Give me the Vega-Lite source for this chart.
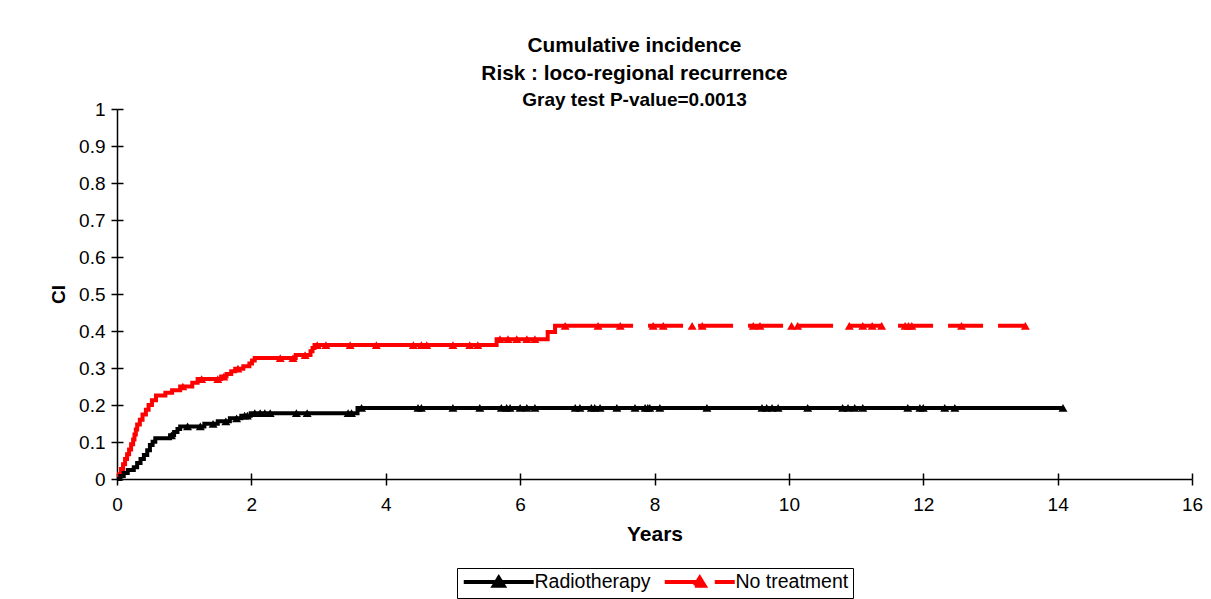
{
  "$schema": "https://vega.github.io/schema/vega-lite/v6.json",
  "width": 1075,
  "height": 370,
  "autosize": {"type": "none"},
  "padding": {"left": 117, "top": 109, "right": 19, "bottom": 120},
  "background": "white",
  "config": {"font": "Liberation Sans", "view": {"stroke": null}},
  "title": {
    "text": ["Cumulative incidence", "Risk : loco-regional recurrence"],
    "subtitle": "Gray test P-value=0.0013",
    "anchor": "middle", "dx": -20, "offset": -11,
    "font": "Liberation Sans", "fontSize": 20.8, "fontWeight": "bold", "color": "black", "lineHeight": 28,
    "subtitleFont": "Liberation Sans", "subtitleFontSize": 19, "subtitleFontWeight": "bold", "subtitleColor": "black", "subtitlePadding": 6
  },
  "datasets": {
    "ci": [
      {"group": "No treatment", "t": 0, "ci": 0, "cens": 0},
      {"group": "No treatment", "t": 0.03, "ci": 0.013, "cens": 0},
      {"group": "No treatment", "t": 0.06, "ci": 0.027, "cens": 0},
      {"group": "No treatment", "t": 0.09, "ci": 0.04, "cens": 0},
      {"group": "No treatment", "t": 0.12, "ci": 0.054, "cens": 0},
      {"group": "No treatment", "t": 0.15, "ci": 0.067, "cens": 0},
      {"group": "No treatment", "t": 0.18, "ci": 0.08, "cens": 0},
      {"group": "No treatment", "t": 0.21, "ci": 0.094, "cens": 0},
      {"group": "No treatment", "t": 0.24, "ci": 0.107, "cens": 0},
      {"group": "No treatment", "t": 0.26, "ci": 0.12, "cens": 0},
      {"group": "No treatment", "t": 0.28, "ci": 0.134, "cens": 0},
      {"group": "No treatment", "t": 0.30, "ci": 0.147, "cens": 0},
      {"group": "No treatment", "t": 0.34, "ci": 0.16, "cens": 0},
      {"group": "No treatment", "t": 0.38, "ci": 0.174, "cens": 0},
      {"group": "No treatment", "t": 0.43, "ci": 0.187, "cens": 0},
      {"group": "No treatment", "t": 0.47, "ci": 0.2, "cens": 0},
      {"group": "No treatment", "t": 0.52, "ci": 0.213, "cens": 0},
      {"group": "No treatment", "t": 0.58, "ci": 0.226, "cens": 0},
      {"group": "No treatment", "t": 0.72, "ci": 0.233, "cens": 0},
      {"group": "No treatment", "t": 0.82, "ci": 0.24, "cens": 0},
      {"group": "No treatment", "t": 0.94, "ci": 0.25, "cens": 0},
      {"group": "No treatment", "t": 0.98, "ci": 0.25, "cens": 1},
      {"group": "No treatment", "t": 1.12, "ci": 0.26, "cens": 0},
      {"group": "No treatment", "t": 1.2, "ci": 0.27, "cens": 0},
      {"group": "No treatment", "t": 1.26, "ci": 0.27, "cens": 1},
      {"group": "No treatment", "t": 1.5, "ci": 0.27, "cens": 1},
      {"group": "No treatment", "t": 1.55, "ci": 0.277, "cens": 0},
      {"group": "No treatment", "t": 1.59, "ci": 0.277, "cens": 1},
      {"group": "No treatment", "t": 1.63, "ci": 0.284, "cens": 0},
      {"group": "No treatment", "t": 1.7, "ci": 0.291, "cens": 0},
      {"group": "No treatment", "t": 1.76, "ci": 0.298, "cens": 0},
      {"group": "No treatment", "t": 1.8, "ci": 0.298, "cens": 1},
      {"group": "No treatment", "t": 1.88, "ci": 0.305, "cens": 0},
      {"group": "No treatment", "t": 1.97, "ci": 0.312, "cens": 0},
      {"group": "No treatment", "t": 2.01, "ci": 0.32, "cens": 0},
      {"group": "No treatment", "t": 2.05, "ci": 0.327, "cens": 0},
      {"group": "No treatment", "t": 2.43, "ci": 0.327, "cens": 1},
      {"group": "No treatment", "t": 2.62, "ci": 0.327, "cens": 1},
      {"group": "No treatment", "t": 2.66, "ci": 0.335, "cens": 0},
      {"group": "No treatment", "t": 2.8, "ci": 0.335, "cens": 1},
      {"group": "No treatment", "t": 2.88, "ci": 0.345, "cens": 0},
      {"group": "No treatment", "t": 2.91, "ci": 0.354, "cens": 0},
      {"group": "No treatment", "t": 2.94, "ci": 0.362, "cens": 0},
      {"group": "No treatment", "t": 2.98, "ci": 0.362, "cens": 1},
      {"group": "No treatment", "t": 3.11, "ci": 0.362, "cens": 1},
      {"group": "No treatment", "t": 3.47, "ci": 0.362, "cens": 1},
      {"group": "No treatment", "t": 3.86, "ci": 0.362, "cens": 1},
      {"group": "No treatment", "t": 4.41, "ci": 0.362, "cens": 1},
      {"group": "No treatment", "t": 4.53, "ci": 0.362, "cens": 1},
      {"group": "No treatment", "t": 4.61, "ci": 0.362, "cens": 1},
      {"group": "No treatment", "t": 5.0, "ci": 0.362, "cens": 1},
      {"group": "No treatment", "t": 5.25, "ci": 0.362, "cens": 1},
      {"group": "No treatment", "t": 5.37, "ci": 0.362, "cens": 1},
      {"group": "No treatment", "t": 5.65, "ci": 0.378, "cens": 0},
      {"group": "No treatment", "t": 5.7, "ci": 0.378, "cens": 1},
      {"group": "No treatment", "t": 5.82, "ci": 0.378, "cens": 1},
      {"group": "No treatment", "t": 5.95, "ci": 0.378, "cens": 1},
      {"group": "No treatment", "t": 6.1, "ci": 0.378, "cens": 1},
      {"group": "No treatment", "t": 6.22, "ci": 0.378, "cens": 1},
      {"group": "No treatment", "t": 6.41, "ci": 0.397, "cens": 0},
      {"group": "No treatment", "t": 6.52, "ci": 0.414, "cens": 0},
      {"group": "No treatment", "t": 6.67, "ci": 0.414, "cens": 1},
      {"group": "No treatment", "t": 7.16, "ci": 0.414, "cens": 1},
      {"group": "No treatment", "t": 7.49, "ci": 0.414, "cens": 1},
      {"group": "No treatment", "t": 7.98, "ci": 0.414, "cens": 1},
      {"group": "No treatment", "t": 8.13, "ci": 0.414, "cens": 1},
      {"group": "No treatment", "t": 8.56, "ci": 0.414, "cens": 1},
      {"group": "No treatment", "t": 8.71, "ci": 0.414, "cens": 1},
      {"group": "No treatment", "t": 9.47, "ci": 0.414, "cens": 1},
      {"group": "No treatment", "t": 9.57, "ci": 0.414, "cens": 1},
      {"group": "No treatment", "t": 10.04, "ci": 0.414, "cens": 1},
      {"group": "No treatment", "t": 10.13, "ci": 0.414, "cens": 1},
      {"group": "No treatment", "t": 10.9, "ci": 0.414, "cens": 1},
      {"group": "No treatment", "t": 11.1, "ci": 0.414, "cens": 1},
      {"group": "No treatment", "t": 11.24, "ci": 0.414, "cens": 1},
      {"group": "No treatment", "t": 11.38, "ci": 0.414, "cens": 1},
      {"group": "No treatment", "t": 11.73, "ci": 0.414, "cens": 1},
      {"group": "No treatment", "t": 11.78, "ci": 0.414, "cens": 1},
      {"group": "No treatment", "t": 11.83, "ci": 0.414, "cens": 1},
      {"group": "No treatment", "t": 12.57, "ci": 0.414, "cens": 1},
      {"group": "No treatment", "t": 13.52, "ci": 0.414, "cens": 1},
      {"group": "Radiotherapy", "t": 0, "ci": 0, "cens": 0},
      {"group": "Radiotherapy", "t": 0.05, "ci": 0.008, "cens": 0},
      {"group": "Radiotherapy", "t": 0.1, "ci": 0.016, "cens": 0},
      {"group": "Radiotherapy", "t": 0.16, "ci": 0.024, "cens": 0},
      {"group": "Radiotherapy", "t": 0.25, "ci": 0.032, "cens": 0},
      {"group": "Radiotherapy", "t": 0.3, "ci": 0.043, "cens": 0},
      {"group": "Radiotherapy", "t": 0.35, "ci": 0.054, "cens": 0},
      {"group": "Radiotherapy", "t": 0.4, "ci": 0.065, "cens": 0},
      {"group": "Radiotherapy", "t": 0.45, "ci": 0.078, "cens": 0},
      {"group": "Radiotherapy", "t": 0.49, "ci": 0.092, "cens": 0},
      {"group": "Radiotherapy", "t": 0.53, "ci": 0.101, "cens": 0},
      {"group": "Radiotherapy", "t": 0.57, "ci": 0.11, "cens": 0},
      {"group": "Radiotherapy", "t": 0.79, "ci": 0.118, "cens": 0},
      {"group": "Radiotherapy", "t": 0.81, "ci": 0.118, "cens": 1},
      {"group": "Radiotherapy", "t": 0.85, "ci": 0.127, "cens": 0},
      {"group": "Radiotherapy", "t": 0.9, "ci": 0.135, "cens": 0},
      {"group": "Radiotherapy", "t": 0.94, "ci": 0.142, "cens": 0},
      {"group": "Radiotherapy", "t": 1.05, "ci": 0.142, "cens": 1},
      {"group": "Radiotherapy", "t": 1.24, "ci": 0.142, "cens": 1},
      {"group": "Radiotherapy", "t": 1.3, "ci": 0.149, "cens": 0},
      {"group": "Radiotherapy", "t": 1.43, "ci": 0.149, "cens": 1},
      {"group": "Radiotherapy", "t": 1.5, "ci": 0.156, "cens": 0},
      {"group": "Radiotherapy", "t": 1.62, "ci": 0.156, "cens": 1},
      {"group": "Radiotherapy", "t": 1.68, "ci": 0.164, "cens": 0},
      {"group": "Radiotherapy", "t": 1.78, "ci": 0.164, "cens": 1},
      {"group": "Radiotherapy", "t": 1.85, "ci": 0.171, "cens": 0},
      {"group": "Radiotherapy", "t": 1.9, "ci": 0.171, "cens": 1},
      {"group": "Radiotherapy", "t": 1.94, "ci": 0.171, "cens": 1},
      {"group": "Radiotherapy", "t": 1.99, "ci": 0.178, "cens": 0},
      {"group": "Radiotherapy", "t": 2.05, "ci": 0.178, "cens": 1},
      {"group": "Radiotherapy", "t": 2.13, "ci": 0.178, "cens": 1},
      {"group": "Radiotherapy", "t": 2.2, "ci": 0.178, "cens": 1},
      {"group": "Radiotherapy", "t": 2.28, "ci": 0.178, "cens": 1},
      {"group": "Radiotherapy", "t": 2.67, "ci": 0.178, "cens": 1},
      {"group": "Radiotherapy", "t": 2.83, "ci": 0.178, "cens": 1},
      {"group": "Radiotherapy", "t": 3.44, "ci": 0.178, "cens": 1},
      {"group": "Radiotherapy", "t": 3.49, "ci": 0.178, "cens": 1},
      {"group": "Radiotherapy", "t": 3.58, "ci": 0.192, "cens": 0},
      {"group": "Radiotherapy", "t": 3.64, "ci": 0.192, "cens": 1},
      {"group": "Radiotherapy", "t": 4.48, "ci": 0.192, "cens": 1},
      {"group": "Radiotherapy", "t": 4.53, "ci": 0.192, "cens": 1},
      {"group": "Radiotherapy", "t": 5.0, "ci": 0.192, "cens": 1},
      {"group": "Radiotherapy", "t": 5.4, "ci": 0.192, "cens": 1},
      {"group": "Radiotherapy", "t": 5.72, "ci": 0.192, "cens": 1},
      {"group": "Radiotherapy", "t": 5.8, "ci": 0.192, "cens": 1},
      {"group": "Radiotherapy", "t": 5.85, "ci": 0.192, "cens": 1},
      {"group": "Radiotherapy", "t": 6.0, "ci": 0.192, "cens": 1},
      {"group": "Radiotherapy", "t": 6.1, "ci": 0.192, "cens": 1},
      {"group": "Radiotherapy", "t": 6.22, "ci": 0.192, "cens": 1},
      {"group": "Radiotherapy", "t": 6.82, "ci": 0.192, "cens": 1},
      {"group": "Radiotherapy", "t": 6.89, "ci": 0.192, "cens": 1},
      {"group": "Radiotherapy", "t": 7.06, "ci": 0.192, "cens": 1},
      {"group": "Radiotherapy", "t": 7.11, "ci": 0.192, "cens": 1},
      {"group": "Radiotherapy", "t": 7.19, "ci": 0.192, "cens": 1},
      {"group": "Radiotherapy", "t": 7.44, "ci": 0.192, "cens": 1},
      {"group": "Radiotherapy", "t": 7.71, "ci": 0.192, "cens": 1},
      {"group": "Radiotherapy", "t": 7.86, "ci": 0.192, "cens": 1},
      {"group": "Radiotherapy", "t": 7.9, "ci": 0.192, "cens": 1},
      {"group": "Radiotherapy", "t": 7.93, "ci": 0.192, "cens": 1},
      {"group": "Radiotherapy", "t": 8.08, "ci": 0.192, "cens": 1},
      {"group": "Radiotherapy", "t": 8.78, "ci": 0.192, "cens": 1},
      {"group": "Radiotherapy", "t": 9.6, "ci": 0.192, "cens": 1},
      {"group": "Radiotherapy", "t": 9.67, "ci": 0.192, "cens": 1},
      {"group": "Radiotherapy", "t": 9.75, "ci": 0.192, "cens": 1},
      {"group": "Radiotherapy", "t": 9.84, "ci": 0.192, "cens": 1},
      {"group": "Radiotherapy", "t": 10.28, "ci": 0.192, "cens": 1},
      {"group": "Radiotherapy", "t": 10.8, "ci": 0.192, "cens": 1},
      {"group": "Radiotherapy", "t": 10.88, "ci": 0.192, "cens": 1},
      {"group": "Radiotherapy", "t": 10.98, "ci": 0.192, "cens": 1},
      {"group": "Radiotherapy", "t": 11.1, "ci": 0.192, "cens": 1},
      {"group": "Radiotherapy", "t": 11.77, "ci": 0.192, "cens": 1},
      {"group": "Radiotherapy", "t": 11.95, "ci": 0.192, "cens": 1},
      {"group": "Radiotherapy", "t": 12.0, "ci": 0.192, "cens": 1},
      {"group": "Radiotherapy", "t": 12.32, "ci": 0.192, "cens": 1},
      {"group": "Radiotherapy", "t": 12.47, "ci": 0.192, "cens": 1},
      {"group": "Radiotherapy", "t": 14.08, "ci": 0.192, "cens": 1}
    ]
  },
  "data": {"name": "ci"},
  "encoding": {
    "color": {
      "field": "group", "type": "nominal",
      "scale": {"domain": ["Radiotherapy", "No treatment"], "range": ["#000000", "#ff0000"]},
      "legend": {
        "orient": "none", "legendX": 340, "legendY": 459, "direction": "horizontal", "title": null,
        "strokeColor": "black", "padding": 4,
        "labelFont": "Liberation Sans", "labelFontSize": 19.5, "labelColor": "black", "labelOffset": 54,
        "columnPadding": 5,
        "symbolType": "M-1,0H9M3.3,0.55L4,-0.6L4.7,0.55Z",
        "symbolSize": 196, "symbolStrokeWidth": 4
      }
    }
  },
  "layer": [
    {
      "transform": [{"filter": "datum.group == 'Radiotherapy' || datum.t <= 7.16"}],
      "mark": {"type": "line", "interpolate": "step-after", "strokeWidth": 4},
      "encoding": {
        "x": {"field": "t", "type": "quantitative", "scale": {"domain": [0, 16], "nice": false},
          "axis": {"orient": "bottom", "values": [0, 2, 4, 6, 8, 10, 12, 14, 16], "grid": false, "domainColor": "black", "domainWidth": 1.5,
            "tickColor": "black", "tickWidth": 1.5, "tickSize": 6, "labelFontSize": 19, "labelColor": "black", "labelPadding": 10, "labelFlush": false,
            "labelFont": "Liberation Sans", "title": "Years", "titleFont": "Liberation Sans", "titleFontSize": 21, "titleFontWeight": "bold", "titleColor": "black", "titlePadding": 9}},
        "y": {"field": "ci", "type": "quantitative", "scale": {"domain": [0, 1], "nice": false},
          "axis": {"orient": "left", "values": [0, 0.1, 0.2, 0.3, 0.4, 0.5, 0.6, 0.7, 0.8, 0.9, 1], "format": ".1~f", "grid": false, "domainColor": "black", "domainWidth": 1.5,
            "tickColor": "black", "tickWidth": 1.5, "tickSize": 6, "labelFontSize": 19, "labelColor": "black", "labelPadding": 6, "labelFlush": false,
            "labelFont": "Liberation Sans", "title": "CI", "titleFont": "Liberation Sans", "titleFontSize": 19, "titleFontWeight": "bold", "titleColor": "black", "titlePadding": 10}},
        "detail": {"field": "group"}
      }
    },
    {
      "transform": [{"filter": "datum.group == 'No treatment' && datum.t >= 7.16"}],
      "mark": {"type": "line", "interpolate": "step-after", "strokeWidth": 4},
      "encoding": {
        "x": {"field": "t", "type": "quantitative", "scale": {"domain": [0, 16], "nice": false}, "axis": null},
        "y": {"field": "ci", "type": "quantitative", "scale": {"domain": [0, 1], "nice": false}, "axis": null},
        "strokeDash": {"field": "group", "type": "nominal",
          "scale": {"domain": ["Radiotherapy", "No treatment"], "range": [[1, 0], [35, 15]]}}
      }
    },
    {
      "transform": [{"filter": "datum.cens == 1"}],
      "mark": {"type": "point", "shape": "triangle-up", "filled": true, "size": 80, "opacity": 1},
      "encoding": {
        "x": {"field": "t", "type": "quantitative", "scale": {"domain": [0, 16], "nice": false},
          "axis": {"orient": "bottom", "values": [0, 2, 4, 6, 8, 10, 12, 14, 16], "offset": -6, "tickSize": 6, "tickColor": "black", "tickWidth": 1.5,
            "domain": false, "labels": false, "title": null, "grid": false}},
        "y": {"field": "ci", "type": "quantitative", "scale": {"domain": [0, 1], "nice": false},
          "axis": {"orient": "left", "values": [0, 0.1, 0.2, 0.3, 0.4, 0.5, 0.6, 0.7, 0.8, 0.9, 1], "offset": -6, "tickSize": 6, "tickColor": "black", "tickWidth": 1.5,
            "domain": false, "labels": false, "title": null, "grid": false}}
      }
    }
  ],
  "resolve": {"axis": {"x": "independent", "y": "independent"}}
}
